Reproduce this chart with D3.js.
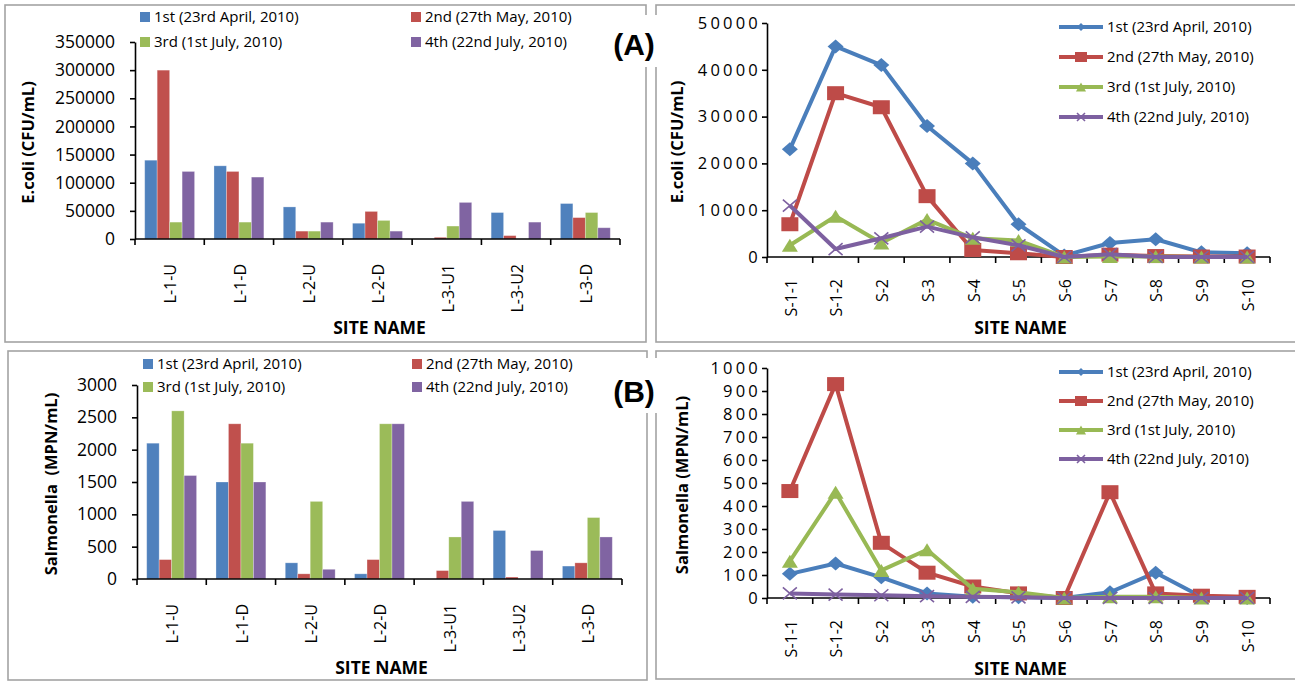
<!DOCTYPE html>
<html>
<head>
<meta charset="utf-8">
<script src="https://cdn.jsdelivr.net/npm/d3@7"></script>
<style>
  body { margin: 0; background: #fff; }
  text { font-family: "Open Sans", sans-serif; fill: #000; }
  .axis path, .axis line { stroke: #000; stroke-width: 1.6; }
  .axis text { font-family: "Open Sans", sans-serif; }
  .bold { font-weight: bold; }
</style>
</head>
<body>
<div id="chart"></div>
<script>
var width = 1295,
  height = 681;

// categories
var barSites = ["L-1-U", "L-1-D", "L-2-U", "L-2-D", "L-3-U1", "L-3-U2", "L-3-D"];
var lineSites = ["S-1-1", "S-1-2", "S-2", "S-3", "S-4", "S-5", "S-6", "S-7", "S-8", "S-9", "S-10"];
var seriesNames = ["1st (23rd April, 2010)", "2nd (27th May, 2010)", "3rd (1st July, 2010)", "4th (22nd July, 2010)"];

// E.coli (CFU/mL), bar chart, one array per sampling
var ecoliBar1st = [140000, 130000, 57000, 28000, 0, 47000, 63000];
var ecoliBar2nd = [300000, 120000, 14000, 49000, 3000, 6000, 38000];
var ecoliBar3rd = [30000, 30000, 14000, 33000, 23000, 0, 47000];
var ecoliBar4th = [120000, 110000, 30000, 14000, 65000, 30000, 20000];

// E.coli (CFU/mL), line chart
var ecoliLine1st = [23000, 45000, 41000, 28000, 20000, 7000, 300, 3000, 3800, 1000, 800];
var ecoliLine2nd = [7000, 35000, 32000, 13000, 1500, 800, 0, 500, 200, 100, 100];
var ecoliLine3rd = [2500, 8700, 3000, 8000, 4000, 3500, 0, 100, 100, 0, 0];
var ecoliLine4th = [11000, 1700, 4000, 6500, 4200, 2500, 0, 600, 0, 0, 0];

// Salmonella (MPN/mL), bar chart
var salmBar1st = [2100, 1500, 250, 80, 0, 750, 200];
var salmBar2nd = [300, 2400, 80, 300, 130, 30, 250];
var salmBar3rd = [2600, 2100, 1200, 2400, 650, 0, 950];
var salmBar4th = [1600, 1500, 150, 2400, 1200, 440, 650];

// Salmonella (MPN/mL), line chart
var salmLine1st = [105, 150, 90, 20, 5, 3, 0, 25, 110, 5, 0];
var salmLine2nd = [465, 930, 240, 110, 50, 20, 0, 460, 20, 10, 5];
var salmLine3rd = [160, 460, 120, 210, 40, 25, 0, 5, 5, 0, 0];
var salmLine4th = [20, 15, 12, 8, 5, 3, 0, 0, 0, 0, 0];

var ecoliTicks = [0, 50000, 100000, 150000, 200000, 250000, 300000, 350000];
var ecoliLineTicks = [0, 10000, 20000, 30000, 40000, 50000];
var salmTicks = [0, 500, 1000, 1500, 2000, 2500, 3000];
var salmLineTicks = [0, 100, 200, 300, 400, 500, 600, 700, 800, 900, 1000];

var barColors = ["#4F81BD", "#C0504D", "#9BBB59", "#8064A2"];
var lineColors = ["#4A7EBB", "#BE4B48", "#98B954", "#7D60A0"];

var svg = d3.select("#chart").append("svg")
  .attr("width", width)
  .attr("height", height);

// panel frames
var panels = [
  [5, 5, 641, 337],
  [656, 5, 700, 337],
  [8, 351, 639, 329],
  [656, 351, 700, 328]
];
svg.selectAll("rect.panel")
  .data(panels)
  .enter().append("rect")
  .attr("class", "panel")
  .attr("x", function (d) { return d[0]; })
  .attr("y", function (d) { return d[1]; })
  .attr("width", function (d) { return d[2]; })
  .attr("height", function (d) { return d[3]; })
  .attr("fill", "none")
  .attr("stroke", "#a3a3a3")
  .attr("stroke-width", 1.6);

function marker(g, type, color, sx, sy) {
  if (type === 0) {
    g.append("path")
      .attr("d", "M0," + (-sy) + "L" + sx + ",0L0," + sy + "L" + (-sx) + ",0Z")
      .attr("fill", color);
  } else if (type === 1) {
    g.append("rect")
      .attr("x", -sx).attr("y", -sy)
      .attr("width", 2 * sx).attr("height", 2 * sy)
      .attr("fill", color);
  } else if (type === 2) {
    g.append("path")
      .attr("d", "M0," + (-sy) + "L" + sx + "," + sy + "L" + (-sx) + "," + sy + "Z")
      .attr("fill", color);
  } else {
    g.append("path")
      .attr("d", "M" + (-sx) + "," + (-sy) + "L" + sx + "," + sy + "M" + (-sx) + "," + sy + "L" + sx + "," + (-sy))
      .attr("stroke", color)
      .attr("stroke-width", 1.6)
      .attr("fill", "none");
  }
}

function drawBars(o) {
  var g = svg.append("g");
  var x = d3.scaleBand().domain(barSites).range([o.x0, o.x1]);
  var inner = d3.scaleBand().domain([0, 1, 2, 3])
    .range([x.bandwidth() * 0.14, x.bandwidth() * 0.86]);
  var y = d3.scaleLinear().domain([0, o.max]).range([o.yB, o.yT]);

  o.values.forEach(function (vals, s) {
    g.append("g").selectAll("rect")
      .data(vals)
      .enter().append("rect")
      .attr("x", function (d, i) { return x(barSites[i]) + inner(s); })
      .attr("y", function (d) { return y(d); })
      .attr("width", inner.bandwidth())
      .attr("height", function (d) { return o.yB - y(d); })
      .attr("fill", barColors[s])
      .attr("stroke", "#ffffff")
      .attr("stroke-opacity", 0.35)
      .attr("stroke-width", 0.8);
  });

  var yAxis = g.append("g")
    .attr("class", "axis")
    .attr("transform", "translate(" + o.x0 + ",0)")
    .call(d3.axisLeft(y).tickValues(o.ticks).tickSize(5).tickSizeOuter(0)
      .tickPadding(15).tickFormat(d3.format("d")));
  yAxis.selectAll("text").style("font-size", "17.5px").attr("fill", "#000");

  // category axis with ticks on band edges
  var xa = g.append("g").attr("class", "axis");
  xa.append("line")
    .attr("x1", o.x0).attr("x2", o.x1)
    .attr("y1", o.yB).attr("y2", o.yB);
  xa.selectAll("line.tk")
    .data(barSites.concat(["end"]))
    .enter().append("line")
    .attr("class", "tk")
    .attr("x1", function (d, i) { return o.x0 + i * x.step(); })
    .attr("x2", function (d, i) { return o.x0 + i * x.step(); })
    .attr("y1", o.yB).attr("y2", o.yB + 6);
  g.selectAll("text.xl")
    .data(barSites)
    .enter().append("text")
    .attr("class", "xl")
    .attr("transform", function (d) {
      return "translate(" + (x(d) + x.bandwidth() / 2 + 1) + "," + (o.yB + 25) + ") rotate(-90)";
    })
    .attr("text-anchor", "end")
    .attr("dy", "0.36em")
    .style("font-size", "16px")
    .text(function (d) { return d; });

  g.append("text")
    .attr("class", "bold")
    .attr("x", (o.x0 + o.x1) / 2 + 2)
    .attr("y", o.yB + 95)
    .attr("text-anchor", "middle")
    .style("font-size", "17.5px")
    .text("SITE NAME");

  g.append("text")
    .attr("class", "bold")
    .attr("transform", "translate(" + o.titleX + "," + ((o.yT + o.yB) / 2 + 2) + ") rotate(-90)")
    .attr("text-anchor", "middle")
    .attr("dy", "0.35em")
    .style("font-size", "16.5px")
    .style("white-space", "pre")
    .text(o.title);

  // legend, two columns
  seriesNames.forEach(function (name, s) {
    var lx = o.legX[s % 2], ly = o.legY[Math.floor(s / 2)];
    g.append("rect")
      .attr("x", lx).attr("y", ly - 5)
      .attr("width", 10).attr("height", 10)
      .attr("fill", barColors[s]);
    g.append("text")
      .attr("x", lx + 14).attr("y", ly)
      .attr("dy", "0.35em")
      .style("font-size", "15px")
      .text(name);
  });
}

function drawLines(o) {
  var g = svg.append("g");
  var x = d3.scaleBand().domain(lineSites).range([o.x0, o.x1]);
  var y = d3.scaleLinear().domain([0, o.max]).range([o.yB, o.yT]);

  var yAxis = g.append("g")
    .attr("class", "axis")
    .attr("transform", "translate(" + o.x0 + ",0)")
    .call(d3.axisLeft(y).tickValues(o.ticks).tickSize(5).tickSizeOuter(0)
      .tickPadding(1).tickFormat(d3.format("d")));
  yAxis.selectAll("text").style("font-size", "16.5px").style("letter-spacing", "3.2px").attr("fill", "#000");

  var xa = g.append("g").attr("class", "axis");
  xa.append("line")
    .attr("x1", o.x0).attr("x2", o.x1)
    .attr("y1", o.yB).attr("y2", o.yB);
  xa.selectAll("line.tk")
    .data(lineSites.concat(["end"]))
    .enter().append("line")
    .attr("class", "tk")
    .attr("x1", function (d, i) { return o.x0 + i * x.step(); })
    .attr("x2", function (d, i) { return o.x0 + i * x.step(); })
    .attr("y1", o.yB).attr("y2", o.yB + 6);
  g.selectAll("text.xl")
    .data(lineSites)
    .enter().append("text")
    .attr("class", "xl")
    .attr("transform", function (d) {
      return "translate(" + (x(d) + x.bandwidth() / 2 + 1) + "," + (o.yB + 22) + ") rotate(-90)";
    })
    .attr("text-anchor", "end")
    .attr("dy", "0.36em")
    .style("font-size", "16px")
    .text(function (d) { return d; });

  g.append("text")
    .attr("class", "bold")
    .attr("x", (o.x0 + o.x1) / 2 + 2)
    .attr("y", o.yB + 77)
    .attr("text-anchor", "middle")
    .style("font-size", "17.5px")
    .text("SITE NAME");

  g.append("text")
    .attr("class", "bold")
    .attr("transform", "translate(" + o.titleX + "," + ((o.yT + o.yB) / 2 + 2) + ") rotate(-90)")
    .attr("text-anchor", "middle")
    .attr("dy", "0.35em")
    .style("font-size", "16.5px")
    .text(o.title);

  var line = d3.line()
    .x(function (d, i) { return x(lineSites[i]) + x.bandwidth() / 2; })
    .y(function (d) { return y(d); });

  o.values.forEach(function (vals, s) {
    g.append("path")
      .datum(vals)
      .attr("d", line)
      .attr("fill", "none")
      .attr("stroke", lineColors[s])
      .attr("stroke-width", 4)
      .attr("stroke-linejoin", "round");
    vals.forEach(function (v, i) {
      var m = g.append("g")
        .attr("transform", "translate(" + (x(lineSites[i]) + x.bandwidth() / 2) + "," + y(v) + ")");
      var sz = [[8, 7], [8.5, 7], [8, 6.5], [7, 6]][s];
      marker(m, s, lineColors[s], sz[0], sz[1]);
    });
  });

  // legend
  seriesNames.forEach(function (name, s) {
    var ly = o.legY[s];
    g.append("line")
      .attr("x1", 1059).attr("x2", 1103)
      .attr("y1", ly).attr("y2", ly)
      .attr("stroke", lineColors[s])
      .attr("stroke-width", 4);
    var m = g.append("g").attr("transform", "translate(1081," + ly + ")");
    var sz = [[4, 4], [6, 5], [5, 4.5], [4, 4]][s];
    marker(m, s, lineColors[s], sz[0], sz[1]);
    g.append("text")
      .attr("x", 1107).attr("y", ly)
      .attr("dy", "0.35em")
      .style("font-size", "15px")
      .text(name);
  });
}

drawBars({
  x0: 135, x1: 620, yT: 42, yB: 239, max: 350000, ticks: ecoliTicks,
  values: [ecoliBar1st, ecoliBar2nd, ecoliBar3rd, ecoliBar4th],
  title: "E.coli (CFU/mL)", titleX: 28,
  legX: [140, 411], legY: [17, 42]
});

drawBars({
  x0: 137, x1: 622, yT: 385, yB: 579, max: 3000, ticks: salmTicks,
  values: [salmBar1st, salmBar2nd, salmBar3rd, salmBar4th],
  title: "Salmonella  (MPN/mL)", titleX: 51,
  legX: [143, 412], legY: [364, 387]
});

drawLines({
  x0: 767, x1: 1270, yT: 23, yB: 257, max: 50000, ticks: ecoliLineTicks,
  values: [ecoliLine1st, ecoliLine2nd, ecoliLine3rd, ecoliLine4th],
  title: "E.coli (CFU/mL)", titleX: 677,
  legY: [27, 57, 87, 117]
});

drawLines({
  x0: 767, x1: 1270, yT: 368, yB: 598, max: 1000, ticks: salmLineTicks,
  values: [salmLine1st, salmLine2nd, salmLine3rd, salmLine4th],
  title: "Salmonella (MPN/mL)", titleX: 682,
  legY: [372, 401, 430, 459]
});

// panel letters sit on white boxes over the frames
[["(A)", 15, 67, 44], ["(B)", 358, 413, 391]].forEach(function (d) {
  svg.append("rect")
    .attr("x", 609).attr("y", d[1])
    .attr("width", 50).attr("height", d[2] - d[1])
    .attr("fill", "#fff");
  svg.append("text")
    .attr("x", 634).attr("y", d[3])
    .attr("text-anchor", "middle")
    .attr("dy", "0.35em")
    .style("font-family", "'Liberation Sans', Arial, sans-serif")
    .style("font-weight", "bold")
    .style("font-size", "30px")
    .text(d[0]);
});
</script>
</body>
</html>
